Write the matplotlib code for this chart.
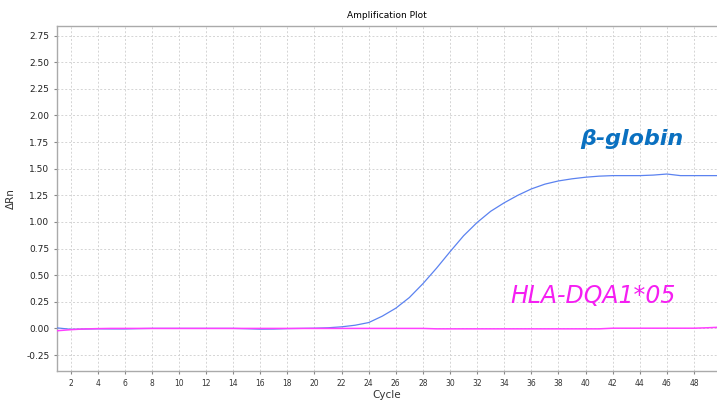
import matplotlib
matplotlib.use("Agg")
import matplotlib.pyplot as plt

# cycle numbers and delta Rn values
cycles = list(range(1, 51))
beta_globin = [0.005, -0.008, -0.006, -0.004, -0.005, -0.005, -0.002, 0.0, 0.0, 0.0,
               0.0, 0.0, 0.0, 0.0, -0.003, -0.007, -0.006, -0.002, 0.0, 0.002,
               0.006, 0.015, 0.03, 0.055, 0.115, 0.19, 0.29, 0.42, 0.565, 0.72,
               0.87, 0.995, 1.10, 1.18, 1.25, 1.31, 1.355, 1.385, 1.405, 1.42,
               1.43, 1.435, 1.435, 1.435, 1.44, 1.45, 1.435, 1.435, 1.435, 1.435]
hla_dqa1 = [-0.022, -0.012, -0.005, -0.002, 0.0, 0.0, 0.0, 0.0, 0.0, 0.0,
            0.0, 0.0, 0.0, 0.0, 0.0, 0.0, 0.0, 0.0, 0.0, 0.0,
            0.0, 0.0, 0.0, 0.0, 0.0, 0.0, 0.0, 0.0, -0.004, -0.004,
            -0.004, -0.004, -0.004, -0.004, -0.004, -0.004, -0.004, -0.004, -0.004, -0.004,
            -0.004, 0.002, 0.002, 0.002, 0.002, 0.002, 0.002, 0.002, 0.006, 0.012]
x_ticks = list(range(2, 50, 2))
y_ticks = [-0.25, 0.0, 0.25, 0.5, 0.75, 1.0, 1.25, 1.5, 1.75, 2.0, 2.25, 2.5, 2.75]

fig = plt.figure(figsize=(7.17, 4.01), dpi=100)
ax = fig.add_axes([0.0795, 0.0748, 0.9205, 0.8603])

ax.plot(cycles, beta_globin, color="#5b82f0", lw=0.9, zorder=3)
ax.plot(cycles, hla_dqa1, color="#ff40ff", lw=1.1, zorder=4)

ax.set_xlim(1, 49.7)
ax.set_ylim(-0.40, 2.84)
ax.set_xticks(x_ticks)
ax.set_yticks(y_ticks)
ax.set_yticklabels([f"{v:.2f}" for v in y_ticks])
ax.tick_params(axis="x", labelsize=5.5, length=2.5, colors="#888888", labelcolor="#333333", pad=3)
ax.tick_params(axis="y", labelsize=6.5, length=2.5, colors="#888888", labelcolor="#222222", pad=3)

ax.grid(True, color="#d4d4d4", linestyle=(0, (2, 2)), linewidth=0.7)
ax.set_axisbelow(True)
for side in ["left", "bottom", "top"]:
    ax.spines[side].set_color("#aaaaaa")
    ax.spines[side].set_linewidth(1.0)
ax.spines["right"].set_visible(False)

ax.set_title("Amplification Plot", fontsize=6.5, pad=6)
ax.set_xlabel("Cycle", fontsize=7.5, color="#333333", labelpad=2)
ax.set_ylabel("\u0394Rn", fontsize=7.5, color="#333333", labelpad=7)

# gene labels placed in data coordinates
ax.text(39.6, 1.72, "\u03b2-globin", color="#0a70c0", fontsize=16,
        fontweight="bold", fontstyle="italic", va="baseline")
ax.text(34.45, 0.24, "HLA-DQA1*05", color="#f51ef2", fontsize=17,
        fontstyle="italic", va="baseline")

fig.savefig("out.png", dpi=100)
